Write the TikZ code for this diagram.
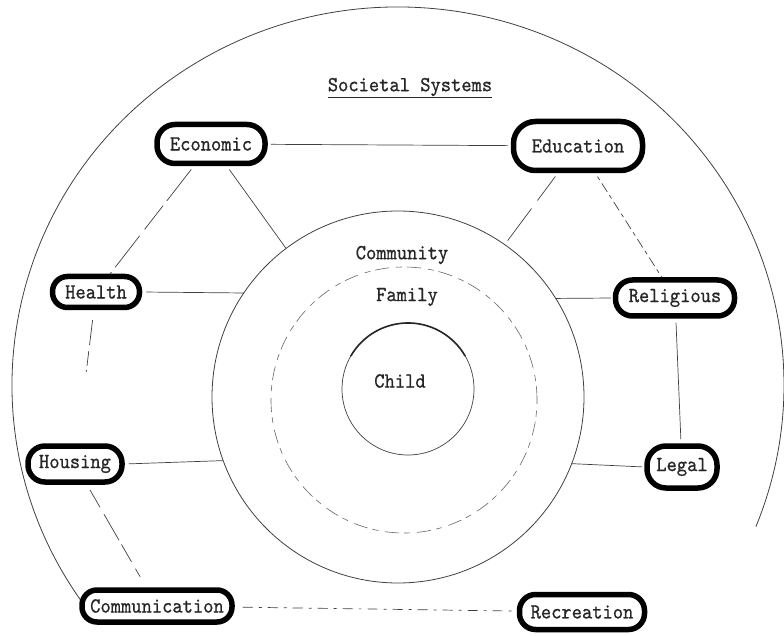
\documentclass[tikz,border=0pt]{standalone}
\usepackage{fontspec}
\newfontfamily\typew{lmmono10-regular.otf}[FakeStretch=0.91, FakeBold=0.8]
\usetikzlibrary{calc}
\begin{document}
\begin{tikzpicture}[x=1pt,y=1pt,
  oval/.style={draw=black, line width=5.5pt, rounded corners=15pt, inner sep=0pt,
    font=\typew\fontsize{21.5}{24}\selectfont, text=black!85},
  lbl/.style={font=\typew\fontsize{21.5}{24}\selectfont, text=black!85, inner sep=0pt},
  ln/.style={line width=0.7pt, draw=black!75},
  ring/.style={circle, draw=black!75, line width=0.8pt, inner sep=0pt, outer sep=0pt},
]
\useasboundingbox (0,0) rectangle (784,635);
\clip (0,0) rectangle (784,635);

% outer societal arc
\coordinate (outerc) at (398,250);
\draw[ln, line width=0.8pt] (outerc) ++(215:386 and 378)
  arc[start angle=215, end angle=-22, x radius=386, y radius=378];

% concentric circles
\node[ring, minimum size=372pt] (comm) at (398,238) {};
\node[ring, draw=black!60, line width=0.6pt, dash pattern=on 14pt off 5pt on 6pt off 7pt, minimum size=266pt] (fam) at (404,235) {};
\node[ring, line width=0.7pt, minimum size=132pt] (child) at (408,246) {};
\draw[line width=1.6pt, black!85] (child.150) arc[start angle=150, end angle=30, radius=66pt];

% labels
\node[lbl] (soc) at (410,547) {\underline{Societal Systems}};
\node[lbl] (lcomm) at (402,380) {Community};
\node[lbl] (lfam) at (407,338) {Family};
\node[lbl] (lchild) at (400,254) {Child};

% system ovals
\node[oval, minimum width=108pt, minimum height=39pt, rounded corners=18pt] (econ) at (211,491) {Economic};
\node[oval, minimum width=129pt, minimum height=49pt, rounded corners=22pt] (edu) at (578,489) {Education};
\node[oval, minimum width=87pt, minimum height=31pt, rounded corners=15pt] (health) at (96,343) {Health};
\node[oval, minimum width=119pt, minimum height=36pt, rounded corners=17pt] (rel) at (675,337) {Religious};
\node[oval, minimum width=94pt, minimum height=36pt, rounded corners=17pt] (housing) at (75,171) {Housing};
\node[oval, minimum width=70pt, minimum height=42pt, rounded corners=19pt] (legal) at (682,168) {Legal};
\node[oval, minimum width=150pt, minimum height=32pt, rounded corners=15pt] (commn) at (157,29) {Communication};
\node[oval, minimum width=125pt, minimum height=35pt, rounded corners=16pt] (rec) at (582,23) {Recreation};

% connectors
\draw[ln, shorten <=3pt, shorten >=3pt] (econ) -- (edu);
\draw[ln, shorten <=4pt, dash pattern=on 40pt off 6pt on 30pt off 8pt] (econ) -- (health);
\draw[ln, shorten <=4pt] (econ) -- (comm.127);
\draw[ln, shorten <=4pt, dash pattern=on 30pt off 10pt on 40pt off 6pt] (edu) -- (comm.55);
\draw[ln, shorten <=4pt, dash pattern=on 4pt off 4pt on 10pt off 4pt] (edu) -- (rel);
\draw[ln, shorten <=4pt] (health.east) -- (comm.146);
\draw[ln, shorten <=2pt] (rel.west) -- (comm.32);
\draw[ln, shorten <=10pt, shorten >=72pt, dash pattern=on 25pt off 6pt on 15pt off 4pt] (health) -- (housing);
\draw[ln, shorten <=4pt, shorten >=4pt] (rel) -- (legal);
\draw[ln, shorten <=4pt] (housing.east) -- (comm.200);
\draw[ln, shorten <=2pt] (legal.west) -- (comm.-21);
\draw[ln, shorten <=6pt, shorten >=12pt, dash pattern=on 20pt off 8pt on 30pt off 5pt] (housing) -- (commn);
\draw[ln, shorten <=8pt, shorten >=2pt, dash pattern=on 10pt off 6pt on 3pt off 6pt] (commn) -- (rec);
\end{tikzpicture}
\end{document}
